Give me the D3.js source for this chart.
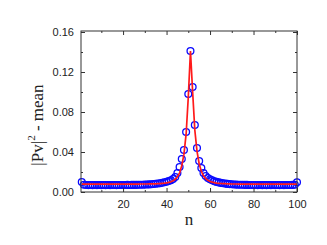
<!DOCTYPE html>
<meta charset="utf-8">
<style>
body { margin: 0; background: #fff; }
.tick text { font-family: "Liberation Sans", Arial, sans-serif; font-size: 11px; fill: #222; }
.axis path, .axis line { stroke: #333; }
.lab { font-family: "Liberation Serif", "Times New Roman", serif; font-size: 17px; fill: #222; }
</style>
<script src="https://d3js.org/d3.v7.min.js"></script>
<body>
<div id="chart"></div>
<script>
// n = 1..100
var nVals = d3.range(1, 101);

// measured points (blue circles)
var pts = [
  0.0100, 0.0072, 0.0070, 0.0069, 0.0070, 0.0069, 0.0070, 0.0069, 0.0070, 0.0069,
  0.0070, 0.0069, 0.0070, 0.0069, 0.0070, 0.0070, 0.0069, 0.0070, 0.0070, 0.0070,
  0.0070, 0.0071, 0.0070, 0.0071, 0.0071, 0.0071, 0.0072, 0.0072, 0.0073, 0.0074,
  0.0075, 0.0076, 0.0078, 0.0080, 0.0082, 0.0085, 0.0088, 0.0092, 0.0097, 0.0103,
  0.0110, 0.0117, 0.0130, 0.0150, 0.0190, 0.0250, 0.0330, 0.0420, 0.0600, 0.0980,
  0.1410, 0.1050, 0.0670, 0.0440, 0.0310, 0.0240, 0.0190, 0.0160, 0.0140, 0.0127,
  0.0117, 0.0108, 0.0101, 0.0096, 0.0091, 0.0087, 0.0084, 0.0081, 0.0079, 0.0077,
  0.0075, 0.0074, 0.0073, 0.0072, 0.0072, 0.0071, 0.0071, 0.0070, 0.0070, 0.0070,
  0.0070, 0.0069, 0.0070, 0.0069, 0.0070, 0.0069, 0.0070, 0.0069, 0.0070, 0.0069,
  0.0070, 0.0069, 0.0070, 0.0069, 0.0070, 0.0070, 0.0070, 0.0071, 0.0072, 0.0098
];

// fitted curve (red line)
var fit = [
  0.0079, 0.0079, 0.0079, 0.0079, 0.0079, 0.0079, 0.0079, 0.0079, 0.0079, 0.0079,
  0.0079, 0.0079, 0.0079, 0.0079, 0.0079, 0.0079, 0.0079, 0.0079, 0.0079, 0.0079,
  0.0079, 0.0079, 0.0079, 0.0079, 0.0079, 0.0079, 0.0079, 0.0080, 0.0080, 0.0080,
  0.0080, 0.0081, 0.0081, 0.0082, 0.0082, 0.0083, 0.0084, 0.0086, 0.0088, 0.0091,
  0.0096, 0.0102, 0.0112, 0.0127, 0.0152, 0.0192, 0.0262, 0.0378, 0.0578, 0.0950,
  0.1410, 0.1000, 0.0620, 0.0408, 0.0283, 0.0207, 0.0162, 0.0134, 0.0117, 0.0106,
  0.0098, 0.0093, 0.0089, 0.0087, 0.0085, 0.0084, 0.0083, 0.0082, 0.0081, 0.0080,
  0.0080, 0.0080, 0.0079, 0.0079, 0.0079, 0.0079, 0.0079, 0.0079, 0.0079, 0.0079,
  0.0079, 0.0079, 0.0079, 0.0079, 0.0079, 0.0079, 0.0079, 0.0079, 0.0079, 0.0079,
  0.0079, 0.0079, 0.0079, 0.0079, 0.0079, 0.0079, 0.0079, 0.0079, 0.0079, 0.0079
];

var xMajor = [20, 40, 60, 80, 100];
var xMinor = [10, 30, 50, 70, 90];
var yMajor = [0, 0.04, 0.08, 0.12, 0.16];
var yMinor = [0.02, 0.06, 0.10, 0.14];

var W = 327, H = 245;
var L = 81, R = 297, T = 31, B = 192;

var svg = d3.select("#chart").append("svg")
    .attr("width", W).attr("height", H);

var x = d3.scaleLinear().domain([0.65, 100]).range([L, R]);
var y = d3.scaleLinear().domain([0, 0.161]).range([B, T]);

// data
var line = d3.line()
    .x(function(d, i) { return x(nVals[i]); })
    .y(function(d) { return y(d); });

svg.append("g").selectAll("circle")
    .data(pts)
    .enter().append("circle")
      .attr("cx", function(d, i) { return x(nVals[i]); })
      .attr("cy", function(d) { return y(d); })
      .attr("r", 3.4)
      .attr("fill", "none")
      .attr("stroke", "#0a0aff")
      .attr("stroke-width", 1.3);

svg.append("path")
    .datum(fit)
    .attr("d", line)
    .attr("fill", "none")
    .attr("stroke", "#ff1a1a")
    .attr("stroke-width", 1.7);

// axes, ticks inward
function addAxis(axis, tr) {
  return svg.append("g").attr("class", "axis")
      .attr("transform", tr).call(axis);
}

addAxis(d3.axisBottom(x).tickValues(xMajor).tickSizeInner(-4).tickSizeOuter(0).tickPadding(8), "translate(0," + B + ")");
addAxis(d3.axisBottom(x).tickValues(xMinor).tickSizeInner(-2).tickSizeOuter(0).tickFormat(""), "translate(0," + B + ")");
addAxis(d3.axisTop(x).tickValues(xMajor).tickSizeInner(-4).tickSizeOuter(0).tickFormat(""), "translate(0," + T + ")");
addAxis(d3.axisTop(x).tickValues(xMinor).tickSizeInner(-2).tickSizeOuter(0).tickFormat(""), "translate(0," + T + ")");

addAxis(d3.axisLeft(y).tickValues(yMajor).tickSizeInner(-4).tickSizeOuter(0).tickPadding(7).tickFormat(d3.format(".2f")), "translate(" + L + ",0)");
addAxis(d3.axisLeft(y).tickValues(yMinor).tickSizeInner(-2).tickSizeOuter(0).tickFormat(""), "translate(" + L + ",0)");
addAxis(d3.axisRight(y).tickValues(yMajor).tickSizeInner(-4).tickSizeOuter(0).tickFormat(""), "translate(" + R + ",0)");
addAxis(d3.axisRight(y).tickValues(yMinor).tickSizeInner(-2).tickSizeOuter(0).tickFormat(""), "translate(" + R + ",0)");

svg.selectAll(".axis .domain").remove();
svg.append("rect")
    .attr("x", L).attr("y", T)
    .attr("width", R - L).attr("height", B - T)
    .attr("fill", "none").attr("stroke", "#333").attr("stroke-width", 1);

// labels
svg.append("text").attr("class", "lab")
    .attr("x", (L + R) / 2).attr("y", 225)
    .attr("text-anchor", "middle")
    .text("n");

var yl = svg.append("text").attr("class", "lab")
    .attr("transform", "translate(43,125) rotate(-90)")
    .attr("text-anchor", "middle");
yl.append("tspan").text("|Pv|");
yl.append("tspan").attr("dy", -8).attr("font-size", "11px").text("2");
yl.append("tspan").attr("dy", 8).text(" - mean");
</script>
</body>
